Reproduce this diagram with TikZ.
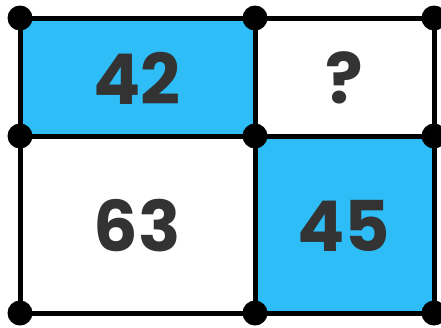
\documentclass[tikz,border=0pt]{standalone}
\usepackage{fontspec}
\setmainfont{Poppins}[BoldFont={* Bold}]
\definecolor{cellblue}{RGB}{46,189,246}
\definecolor{numgray}{RGB}{51,51,51}
\tikzset{
  dot/.style={circle,fill=black,inner sep=0pt,minimum size=25pt},
  gridline/.style={line width=5pt,black},
  num/.style={font=\fontsize{70}{70}\selectfont\bfseries,text=numgray,inner sep=0pt}
}
\begin{document}
\begin{tikzpicture}[x=1pt,y=-1pt]
\useasboundingbox (0,0) rectangle (441,327);
\fill[cellblue] (20,18) rectangle (255,136);
\fill[cellblue] (255,136) rectangle (434,313);
\coordinate (a1) at (20,18); \coordinate (a2) at (255,18); \coordinate (a3) at (434,18);
\coordinate (b1) at (20,136); \coordinate (b2) at (255,136); \coordinate (b3) at (434,136);
\coordinate (c1) at (20,313); \coordinate (c2) at (255,313); \coordinate (c3) at (434,313);
\draw[gridline] (a1) -- (a3);
\draw[gridline] (b1) -- (b3);
\draw[gridline] (c1) -- (c3);
\draw[gridline] (a1) -- (c1);
\draw[gridline] (a2) -- (c2);
\draw[gridline] (a3) -- (c3);
\foreach \p in {a1,a2,a3,b1,b2,b3,c1,c2,c3} \node[dot] (d\p) at (\p) {};
\node[num] (n42) at (137,78) {42};
\node[num] (nq) at (344,78) {?};
\node[num] (n63) at (137,226) {63};
\node[num] (n45) at (344,226) {45};
\end{tikzpicture}
\end{document}
